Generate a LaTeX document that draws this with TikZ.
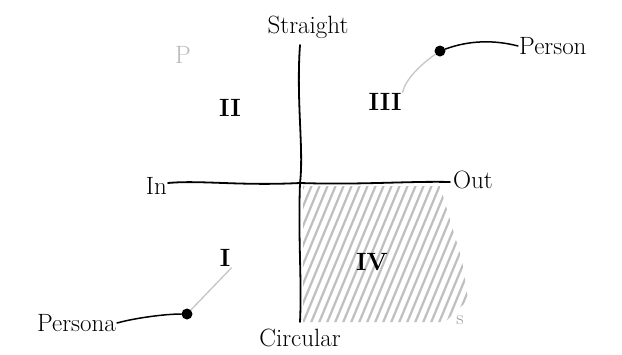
\documentclass[tikz,border=0pt]{standalone}
\begin{document}
\begin{tikzpicture}[x=1pt,y=-1pt,
  lbl/.style={font=\fontsize{25}{28}\selectfont, inner sep=1pt},
  num/.style={font=\fontsize{25}{28}\selectfont\bfseries, inner sep=1pt},
  axis/.style={line width=1.8pt, line cap=round, black},
  dotnode/.style={circle, fill=black, inner sep=0pt, minimum size=11pt},
  lead/.style={line width=1.5pt, line cap=round},
  pointer/.style={line width=1.3pt, gray!45, line cap=round},
  hatch/.style={line width=2.2pt, gray!50, line cap=round}]
\useasboundingbox (0,0) rectangle (622,354);
\fill[white] (0,0) rectangle (622,354);
% hatching of quadrant IV
\begin{scope}
  \clip (303,186) -- (440,186) -- (462,260) -- (468,300) -- (445,322) -- (303,322) -- cycle;
  \foreach \i in {-80,-72,...,200} {
    \draw[hatch] (300+\i,330) -- (362+\i,180);
  }
\end{scope}
% axes
\coordinate (top) at (300,45);
\coordinate (bot) at (300,322);
\coordinate (lft) at (168,183);
\coordinate (rgt) at (450,182);
\draw[axis] (top) .. controls (296,100) and (304,150) .. (300,183) .. controls (298,240) and (302,280) .. (bot);
\draw[axis] (lft) .. controls (200,180) and (240,186) .. (300,183) .. controls (360,185) and (410,181) .. (rgt);
% axis labels
\node[lbl] (straight) at (308,27) {Straight};
\node[lbl] (circular) at (300,338) {Circular};
\node[lbl, anchor=east] (in) at (168,186) {In};
\node[lbl, anchor=west] (out) at (452,180) {Out};
\node[lbl, text=gray!55] (p) at (183,55) {P};
% quadrant numerals
\node[num] (q2) at (230,108) {II};
\node[num] (q3) at (385,102) {III};
\node[num] (q1) at (225,258) {I};
\node[num] (q4) at (372,262) {IV};
\node[font=\fontsize{20}{22}\selectfont, text=gray!80] (s) at (460,320) {s};
% persons
\node[dotnode] (pdot) at (440,51) {};
\node[lbl, anchor=west] (person) at (518,46) {Person};
\draw[lead] (pdot) .. controls (470,40) and (495,40) .. (person.west);
\draw[pointer] (pdot) .. controls (420,65) and (405,80) .. (q3.north east);
\node[dotnode] (padot) at (187,314) {};
\node[lbl, anchor=east] (persona) at (117,323) {Persona};
\draw[lead] (padot) .. controls (165,314) and (135,318) .. (persona.east);
\draw[pointer] (padot) -- (q1.south east);
\end{tikzpicture}
\end{document}
